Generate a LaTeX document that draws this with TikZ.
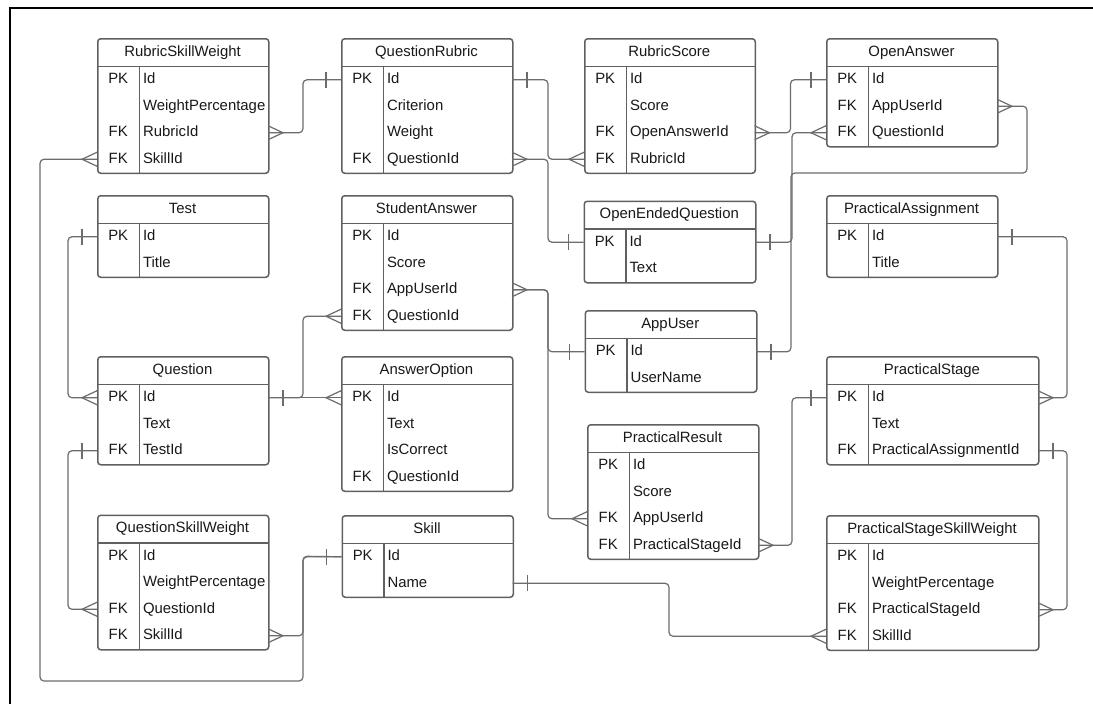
\documentclass[tikz,border=0pt]{standalone}
\usepackage{fontspec}
\setmainfont{Liberation Sans}
\usetikzlibrary{calc}
\definecolor{ln}{RGB}{96,96,96}
\definecolor{cn}{RGB}{108,108,108}
\definecolor{tx}{RGB}{25,25,25}
\tikzset{
  tabbox/.style={draw=ln, line width=1.5pt, rounded corners=3pt, inner sep=0pt, anchor=north west},
  tabline/.style={draw=ln, line width=1.5pt},
  keytxt/.style={anchor=base, inner sep=0pt, text=tx, font=\fontsize{14.9}{16}\selectfont},
  fldtxt/.style={anchor=base west, inner sep=0pt, text=tx, font=\fontsize{14.9}{16}\selectfont},
  ttltxt/.style={anchor=base, inner sep=0pt, text=tx, font=\fontsize{14.9}{16}\selectfont},
  conn/.style={draw=cn, line width=1.2pt, rounded corners=4pt},
  tipline/.style={draw=cn, line width=1.2pt},
}
\newcommand\ertab[6]{%
  \xdef\tn{0}%
  \foreach \k/\f [count=\i] in {#6} {
    \pgfmathsetmacro\rc{#3+28.5+(\i-0.5)*26.5}
    \coordinate (#1-\i-w) at (#2,\rc);
    \coordinate (#1-\i-e) at ({#2+#4},\rc);
    \node[keytxt] (#1-\i-k) at ({#2+21.2},{\rc+3.8}) {\k};
    \node[fldtxt] (#1-\i-f) at ({#2+45.8},{\rc+3.8}) {\f};
    \xdef\tn{\i}
  }
  \pgfmathsetmacro\th{28.5+\tn*26.5}
  \node[tabbox, minimum width=#4pt, minimum height=\th pt] (#1) at (#2,#3) {};
  \node[ttltxt] (#1-t) at ({#2+#4/2},{#3+18.2}) {#5};
  \draw[tabline] (#2,{#3+28.5}) -- ({#2+#4},{#3+28.5});
  \draw[tabline] ({#2+42.3},{#3+28.5}) -- ({#2+42.3},{#3+\th});
}
\newcommand\erOneL[1]{\draw[tipline] ($(#1)+(-15,-8)$) -- ($(#1)+(-15,8)$);}
\newcommand\erOneR[1]{\draw[tipline] ($(#1)+(15,-8)$) -- ($(#1)+(15,8)$);}
\newcommand\erManyL[1]{\draw[tipline] ($(#1)+(0,-7)$) -- ($(#1)+(-15,0)$) -- ($(#1)+(0,7)$);}
\newcommand\erManyR[1]{\draw[tipline] ($(#1)+(0,-7)$) -- ($(#1)+(15,0)$) -- ($(#1)+(0,7)$);}
\begin{document}
\begin{tikzpicture}[x=1pt,y=-1pt]
\useasboundingbox (0,0) rectangle (1093,704);
\fill[white] (0,0) rectangle (1093,704);
\draw[line width=2pt, black] (1094,8) -- (9.5,8) -- (9.5,705);

\ertab{rsw}{97}{38}{171}{RubricSkillWeight}{PK/Id,{}/WeightPercentage,FK/RubricId,FK/SkillId}
\ertab{qr}{341}{38}{171}{QuestionRubric}{PK/Id,{}/Criterion,{}/Weight,FK/QuestionId}
\ertab{rs}{584}{38}{170.5}{RubricScore}{PK/Id,{}/Score,FK/OpenAnswerId,FK/RubricId}
\ertab{oa}{826}{38}{171}{OpenAnswer}{PK/Id,FK/AppUserId,FK/QuestionId}
\ertab{test}{97}{195}{171}{Test}{PK/Id,{}/Title}
\ertab{sa}{341}{195}{171}{StudentAnswer}{PK/Id,{}/Score,FK/AppUserId,FK/QuestionId}
\ertab{oeq}{583.5}{200.5}{171.5}{OpenEndedQuestion}{PK/Id,{}/Text}
\ertab{pa}{826}{195}{171}{PracticalAssignment}{PK/Id,{}/Title}
\ertab{question}{97}{356}{171}{Question}{PK/Id,{}/Text,FK/TestId}
\ertab{ao}{341}{356}{171}{AnswerOption}{PK/Id,{}/Text,{}/IsCorrect,FK/QuestionId}
\ertab{au}{584.5}{310}{171.5}{AppUser}{PK/Id,{}/UserName}
\ertab{ps}{826}{356}{212}{PracticalStage}{PK/Id,{}/Text,FK/PracticalAssignmentId}
\ertab{pr}{587}{424}{171}{PracticalResult}{PK/Id,{}/Score,FK/AppUserId,FK/PracticalStageId}
\ertab{qsw}{97}{514.5}{171}{QuestionSkillWeight}{PK/Id,{}/WeightPercentage,FK/QuestionId,FK/SkillId}
\ertab{skill}{341.5}{515}{171}{Skill}{PK/Id,{}/Name}
\ertab{pssw}{826}{515}{212}{PracticalStageSkillWeight}{PK/Id,{}/WeightPercentage,FK/PracticalStageId,FK/SkillId}

% connectors
\draw[conn] (rsw-3-e) -- ++(35,0) |- (qr-1-w);
\erManyR{rsw-3-e}\erOneL{qr-1-w}

\draw[conn] (rsw-4-w) -| (40,681) -- (303,681) |- (skill-1-w);
\erManyL{rsw-4-w}\erOneL{skill-1-w}
\draw[conn] (qsw-4-e) -| (303,556.25) -- (skill-1-w);
\erManyR{qsw-4-e}

\draw[conn] (qr-1-e) -- ++(36,0) |- (rs-4-w);
\erOneR{qr-1-e}\erManyL{rs-4-w}
\draw[conn] (qr-4-e) -- ++(36,0) |- (oeq-1-w);
\erManyR{qr-4-e}\erOneL{oeq-1-w}

\draw[conn] (rs-3-e) -- ++(36,0) |- (oa-1-w);
\erManyR{rs-3-e}\erOneL{oa-1-w}
\draw[conn] (oa-3-w) -- ++(-34,0) |- (oeq-1-e);
\erManyL{oa-3-w}\erOneR{oeq-1-e}
\draw[conn] (oa-2-e) -- ++(30,0) |- (791,173) |- (au-1-e);
\erManyR{oa-2-e}\erOneR{au-1-e}

\draw[conn] (test-1-w) -- ++(-29,0) |- (question-1-w);
\erOneL{test-1-w}\erManyL{question-1-w}
\draw[conn] (question-3-w) -- ++(-29,0) |- (qsw-3-w);
\erOneL{question-3-w}\erManyL{qsw-3-w}

\draw[conn] (question-1-e) -- ++(35,0) |- (sa-4-w);
\draw[conn] (question-1-e) -- (ao-1-w);
\erOneR{question-1-e}\erManyL{sa-4-w}\erManyL{ao-1-w}

\draw[conn] (sa-3-e) -- ++(36,0) |- (au-1-w);
\draw[conn] (sa-3-e) -- ++(36,0) |- (pr-3-w);
\erManyR{sa-3-e}\erOneL{au-1-w}\erManyL{pr-3-w}

\draw[conn] (pa-1-e) -- ++(70,0) |- (ps-1-e);
\erOneR{pa-1-e}\erManyR{ps-1-e}
\draw[conn] (ps-3-e) -- ++(29,0) |- (pssw-3-e);
\erOneR{ps-3-e}\erManyR{pssw-3-e}
\draw[conn] (ps-1-w) -- ++(-34,0) |- (pr-4-e);
\erOneL{ps-1-w}\erManyR{pr-4-e}
\draw[conn] (skill-2-e) -- ++(156.5,0) |- (pssw-4-w);
\erOneR{skill-2-e}\erManyL{pssw-4-w}
\end{tikzpicture}
\end{document}
